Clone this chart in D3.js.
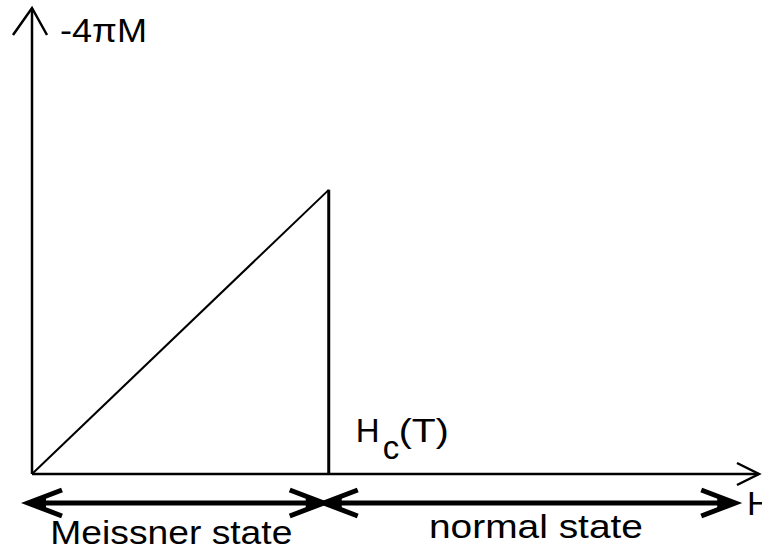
<!DOCTYPE html>
<html>
<head>
<meta charset="utf-8">
<script src="https://cdn.jsdelivr.net/npm/d3@7"></script>
<style>
  html, body { margin: 0; padding: 0; background: #fff; }
  svg { display: block; }
  text { font-family: "Liberation Sans", Arial, sans-serif; fill: #000; }
</style>
</head>
<body>
<svg id="chart" width="762" height="550"></svg>
<script>
// Magnetization of a type-I superconductor: -4πM grows linearly with the
// applied field H up to the critical field Hc(T), then drops to zero.
const fieldH = [0, 1, 1];        // applied field, in units of Hc
const minus4piM = [0, 1, 0];     // -4πM, in units of Hc
const criticalField = 1;
const axisMaxH = 2.45;
const axisMaxM = 1.64;
const regions = [
  { label: "Meissner state", from: 0, to: 1 },
  { label: "normal state", from: 1, to: 2.37 }
];
const axisLabels = { y: "-4πM", x: "H" };

const svg = d3.select("#chart");
const x = d3.scaleLinear().domain([0, axisMaxH]).range([32, 759]);
const y = d3.scaleLinear().domain([0, axisMaxM]).range([474, 8]);

// Axes drawn as plain arrows
const axisG = svg.append("g").attr("stroke", "#000").attr("fill", "none");
axisG.append("line")
  .attr("x1", x(0)).attr("y1", y(0)).attr("x2", x(0)).attr("y2", y(axisMaxM))
  .attr("stroke-width", 2.5);
axisG.append("line")
  .attr("x1", x(0)).attr("y1", y(0)).attr("x2", x(axisMaxH)).attr("y2", y(0))
  .attr("stroke-width", 2.5);

// open arrowheads at the axis ends
const yTip = [x(0), y(axisMaxM)];
axisG.append("path")
  .attr("d", `M${yTip[0] - 19},${yTip[1] + 27} L${yTip[0]},${yTip[1]} L${yTip[0] + 15},${yTip[1] + 27}`)
  .attr("stroke-width", 2.5).attr("stroke-linejoin", "miter");
const xTip = [x(axisMaxH), y(0)];
axisG.append("path")
  .attr("d", `M${xTip[0] - 22},${xTip[1] - 11} L${xTip[0]},${xTip[1]} L${xTip[0] - 22},${xTip[1] + 11}`)
  .attr("stroke-width", 2.5).attr("stroke-linejoin", "miter");

// the magnetization curve
const pts = fieldH.map((h, i) => [x(h), y(minus4piM[i])]);
const curve = svg.append("g").attr("stroke", "#000").attr("fill", "none");
curve.append("line")
  .attr("x1", pts[0][0]).attr("y1", pts[0][1]).attr("x2", pts[1][0]).attr("y2", pts[1][1])
  .attr("stroke-width", 2);
curve.append("line")
  .attr("x1", pts[1][0]).attr("y1", pts[1][1]).attr("x2", pts[2][0]).attr("y2", pts[2][1])
  .attr("stroke-width", 3);

// axis labels
svg.append("text")
  .attr("x", yTip[0] + 28).attr("y", yTip[1] + 34)
  .attr("font-size", 34)
  .attr("textLength", 87).attr("lengthAdjust", "spacingAndGlyphs")
  .text(axisLabels.y);
svg.append("text")
  .attr("x", xTip[0] - 12).attr("y", xTip[1] + 41)
  .attr("font-size", 34)
  .text(axisLabels.x);

// critical field label Hc(T)
const hcX = x(criticalField) + 27, hcY = y(0) - 32;
svg.append("text").attr("x", hcX).attr("y", hcY).attr("font-size", 33).text("H");
svg.append("text").attr("x", hcX + 27).attr("y", hcY + 17).attr("font-size", 33).text("c");
svg.append("text").attr("x", hcX + 43).attr("y", hcY).attr("font-size", 33)
  .attr("textLength", 50).attr("lengthAdjust", "spacingAndGlyphs").text("(T)");

// double-headed arrows marking the two states
const arrowY = 503;
const headBack = 34, headHalf = 13;
function arrowHead(g, tipX, dir) {
  // dir = -1 points left, +1 points right
  const bx = tipX - dir * headBack;
  g.append("path")
    .attr("d", `M${bx},${arrowY - headHalf} L${tipX},${arrowY} L${bx},${arrowY + headHalf}`)
    .attr("fill", "none").attr("stroke", "#000").attr("stroke-width", 5)
    .attr("stroke-linejoin", "miter").attr("stroke-miterlimit", 10);
  g.append("path")
    .attr("d", `M${tipX},${arrowY} L${tipX - dir * 18},${arrowY - 5} L${tipX - dir * 18},${arrowY + 5}Z`)
    .attr("fill", "#000");
}
const regionLabelDx = [-9, 4];
const regionLabelY = [544, 538];
const regionLabelLen = [242, 214];
regions.forEach((r, i) => {
  const g = svg.append("g");
  const x0 = x(r.from) - (i === 0 ? 4 : 5);
  const x1 = x(r.to) - (i === 0 ? 5 : 0);
  g.append("line")
    .attr("x1", x0 + 3).attr("y1", arrowY).attr("x2", x1 - 3).attr("y2", arrowY)
    .attr("stroke", "#000").attr("stroke-width", 5);
  arrowHead(g, x0, -1);
  arrowHead(g, x1, 1);
  g.append("text")
    .attr("x", (x(r.from) + x(r.to)) / 2 + regionLabelDx[i])
    .attr("y", regionLabelY[i])
    .attr("text-anchor", "middle")
    .attr("font-size", 33)
    .attr("textLength", regionLabelLen[i]).attr("lengthAdjust", "spacingAndGlyphs")
    .text(r.label);
});
</script>
</body>
</html>
